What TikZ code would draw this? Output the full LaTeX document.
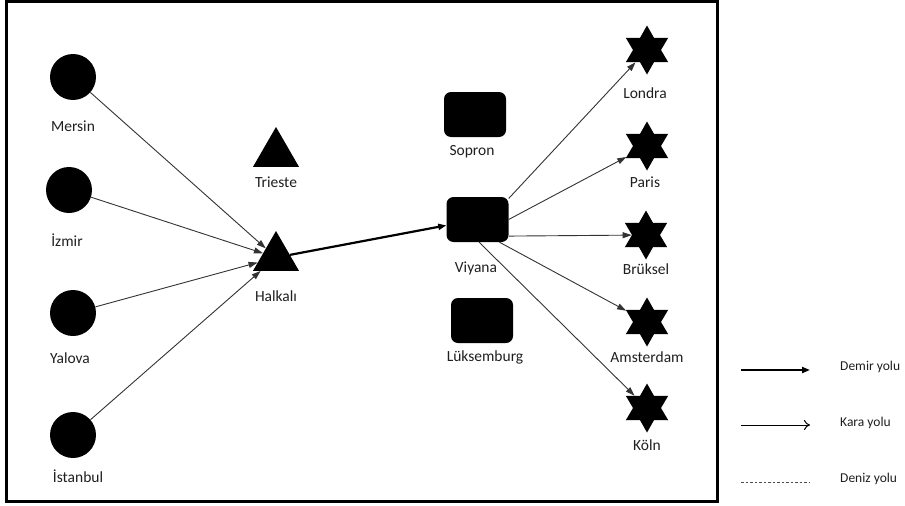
\documentclass[tikz,border=0pt]{standalone}
\usepackage{fontspec}
\setmainfont{Carlito}
\usetikzlibrary{shapes.geometric,arrows.meta}
\begin{document}
\begin{tikzpicture}[x=1pt,y=-1pt,
  city/.style={circle,fill=black,draw=none,minimum size=46pt,inner sep=0pt},
  port/.style={regular polygon,regular polygon sides=3,fill=black,draw=none,minimum size=53pt,inner sep=0pt},
  hub/.style={rectangle,rounded corners=7pt,fill=black,draw=none,minimum width=62pt,minimum height=45pt,inner sep=0pt},
  dest/.style={star,star points=6,star point ratio=1.75,fill=black,draw=none,minimum size=49pt,inner sep=0pt},
  lbl/.style={inner sep=0pt,text=black!88,font=\fontsize{15.5}{18}\selectfont},
  key/.style={inner sep=0pt,anchor=west,text=black!88,font=\fontsize{13.5}{16}\selectfont},
  road/.style={draw=black!80,line width=0.9pt,-{Triangle[length=9pt,width=6pt]}},
  rail/.style={draw=black,line width=2.2pt,-{Triangle[length=8pt,width=6pt]}},
  roadkey/.style={draw=black,line width=1pt,-{To[length=6pt,width=10pt]}},
  sea/.style={draw=black!70,line width=0.7pt,dash pattern=on 2.5pt off 2pt}
]
\useasboundingbox (0,0) rectangle (905,506);
% frame
\draw[line width=2.6pt] (6.5,1.5) rectangle (717.5,501.5);

% origin cities
\node[city] (mersin) at (73,77) {};
\node[lbl] (mersinL) at (73,126) {Mersin};
\node[city] (izmir) at (69,190) {};
\node[lbl] (izmirL) at (67,240) {İzmir};
\node[city] (yalova) at (73,313) {};
\node[lbl] (yalovaL) at (70,358) {Yalova};
\node[city] (istanbul) at (73,435) {};
\node[lbl] (istanbulL) at (78,476) {İstanbul};

% terminals
\node[port] (trieste) at (276,153.5) {};
\node[lbl] (triesteL) at (276,182) {Trieste};
\node[port] (halkali) at (276,257.5) {};
\node[lbl] (halkaliL) at (276,296) {Halkalı};

% hubs
\node[hub] (sopron) at (475,114.5) {};
\node[lbl] (sopronL) at (472,152) {Sopron};
\node[hub] (viyana) at (477.5,219.5) {};
\node[lbl] (viyanaL) at (476,268) {Viyana};
\node[hub] (luks) at (482,320.5) {};
\node[lbl] (luksL) at (485,357) {Lüksemburg};

% destinations
\node[dest] (londra) at (647,50) {};
\node[lbl] (londraL) at (645,93) {Londra};
\node[dest] (paris) at (647,146) {};
\node[lbl] (parisL) at (645,182) {Paris};
\node[dest] (bruksel) at (646,235) {};
\node[lbl] (brukselL) at (646,269) {Brüksel};
\node[dest] (amsterdam) at (647,322) {};
\node[lbl] (amsterdamL) at (647,357) {Amsterdam};
\node[dest] (koln) at (647,408) {};
\node[lbl] (kolnL) at (647,445) {Köln};

% road links into Halkalı
\draw[road] (mersin) -- (halkali);
\draw[road] (izmir) -- (halkali);
\draw[road] (yalova) -- (halkali);
\draw[road] (istanbul) -- (halkali);

% rail link
\draw[rail] (halkali) -- (viyana);

% road links out of Viyana
\draw[road] (viyana.34) -- (londra);
\draw[road] (viyana.0) -- (paris);
\draw[road] (viyana.-28) -- (bruksel);
\draw[road] (viyana.-46) -- (amsterdam);
\draw[road] (viyana.-86) -- (koln);

% legend
\coordinate (k1a) at (741,370);
\coordinate (k1b) at (810,370);
\draw[rail] (k1a) -- (k1b);
\node[key] (k1L) at (840,367) {Demir yolu};
\coordinate (k2a) at (741,425);
\coordinate (k2b) at (810,425);
\draw[roadkey] (k2a) -- (k2b);
\node[key] (k2L) at (840,423) {Kara yolu};
\coordinate (k3a) at (741,482);
\coordinate (k3b) at (810,482);
\draw[sea] (k3a) -- (k3b);
\node[key] (k3L) at (840,479) {Deniz yolu};
\end{tikzpicture}
\end{document}
